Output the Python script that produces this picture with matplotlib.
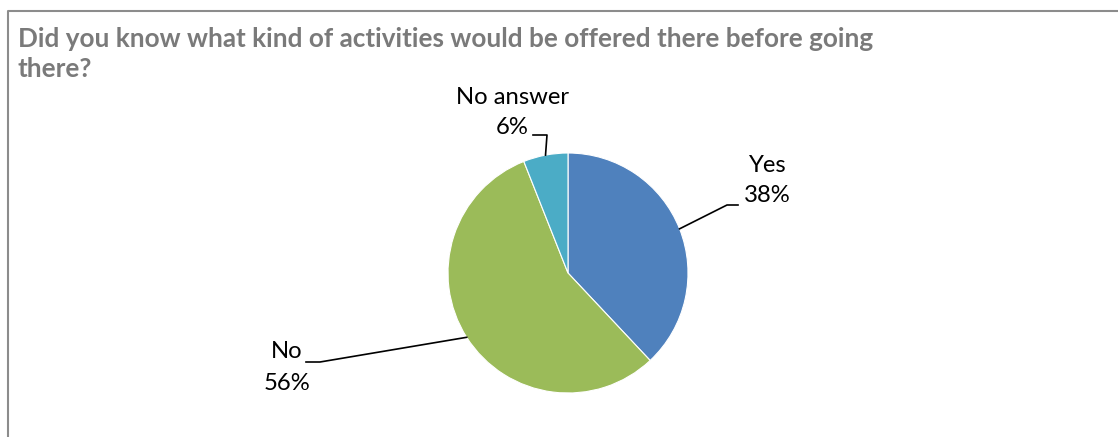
import numpy as np
import matplotlib
matplotlib.use("Agg")
import matplotlib.pyplot as plt
from matplotlib.lines import Line2D

# Survey answers
categories = ["Yes", "No", "No answer"]
shares = [38, 56, 6]
colors = ["#4F81BD", "#9BBB59", "#4BACC6"]
title_lines = ["Did you know what kind of activities would be offered there before going",
               "there?"]

W, H = 1118, 437
fig = plt.figure(figsize=(W / 100, H / 100), dpi=100)
ax = fig.add_axes([0, 0, 1, 1])

def py(y):
    return H - y

cx, cy, r = 568, py(273), 120
wedges, _ = ax.pie(shares, colors=colors, startangle=90, counterclock=False,
                   center=(cx, cy), radius=r, frame=True,
                   wedgeprops=dict(edgecolor="white", linewidth=0.8))
ax.set_xlim(0, W)
ax.set_ylim(0, H)
ax.set_aspect("equal")
ax.axis("off")

# chart frame (top and left edges visible)
ax.add_line(Line2D([7.5, 7.5, W], [0, py(11), py(11)], color="#8c8c8c", lw=1.5))

for i, line in enumerate(title_lines):
    ax.text(18, py(39 + 30 * i), line, ha="left", va="center", fontsize=18.8,
            fontweight="bold", color="#7a7a7a", family="Lato")

# label text positions (line centers) and leader elbows, in pixel space
label_pos = {"Yes": (767, 165), "No": (287, 352), "No answer": (512, 97)}
elbows = {
    "Yes": [(727, 205), (738, 205)],
    "No": [(320, 362), (306, 362)],
    "No answer": [(547, 135), (533, 135)],
}

for w, cat, val in zip(wedges, categories, shares):
    mid = np.deg2rad((w.theta1 + w.theta2) / 2)
    ax_pt = (cx + r * np.cos(mid), cy + r * np.sin(mid))
    pts = [ax_pt] + [(x, py(y)) for x, y in elbows[cat]]
    ax.add_line(Line2D([p[0] for p in pts], [p[1] for p in pts], color="black", lw=1.2))
    lx, ly = label_pos[cat]
    ax.text(lx, py(ly), cat, ha="center", va="center", fontsize=17.2,
            family="Lato", color="black")
    ax.text(lx, py(ly + 31), f"{val}%", ha="center", va="center", fontsize=17.2,
            family="Lato", color="black")

fig.savefig("out.png", dpi=100)
